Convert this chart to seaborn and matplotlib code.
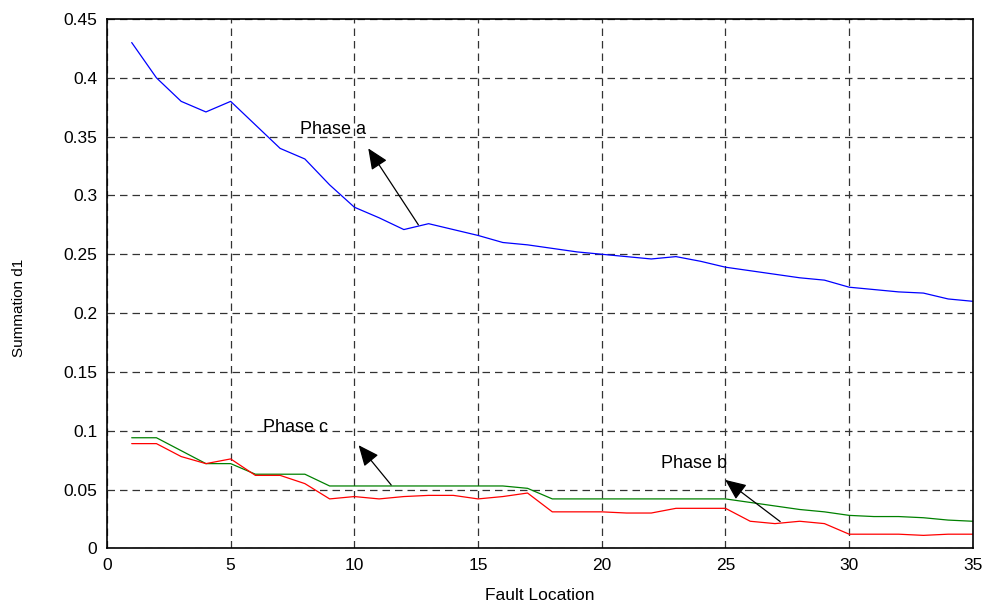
import numpy as np
import pandas as pd
import matplotlib
matplotlib.use("Agg")
import matplotlib.pyplot as plt
import seaborn as sns

# ============================
# Data
# ============================
fault_location = list(range(1, 36))

phase_a = [0.430, 0.400, 0.380, 0.371, 0.380, 0.360, 0.340, 0.331, 0.309, 0.290,
           0.281, 0.271, 0.276, 0.271, 0.266, 0.260, 0.258, 0.255, 0.252, 0.250,
           0.248, 0.246, 0.248, 0.244, 0.239, 0.236, 0.233, 0.230, 0.228, 0.222,
           0.220, 0.218, 0.217, 0.212, 0.210]

phase_b = [0.089, 0.089, 0.078, 0.072, 0.076, 0.062, 0.062, 0.055, 0.042, 0.044,
           0.042, 0.044, 0.045, 0.045, 0.042, 0.044, 0.047, 0.031, 0.031, 0.031,
           0.030, 0.030, 0.034, 0.034, 0.034, 0.023, 0.021, 0.023, 0.021, 0.012,
           0.012, 0.012, 0.011, 0.012, 0.012]

phase_c = [0.094, 0.094, 0.083, 0.072, 0.072, 0.063, 0.063, 0.063, 0.053, 0.053,
           0.053, 0.053, 0.053, 0.053, 0.053, 0.053, 0.051, 0.042, 0.042, 0.042,
           0.042, 0.042, 0.042, 0.042, 0.042, 0.039, 0.036, 0.033, 0.031, 0.028,
           0.027, 0.027, 0.026, 0.024, 0.023]

x_ticks = [0, 5, 10, 15, 20, 25, 30, 35]
y_ticks = [0, 0.05, 0.1, 0.15, 0.2, 0.25, 0.3, 0.35, 0.4, 0.45]
y_tick_labels = ["0", "0.05", "0.1", "0.15", "0.2", "0.25", "0.3", "0.35", "0.4", "0.45"]

# ============================
# Style
# ============================
sns.set_style("white")
plt.rcParams['font.family'] = ['Liberation Sans', 'DejaVu Sans']
plt.rcParams['text.color'] = 'black'
plt.rcParams['axes.labelcolor'] = 'black'

fig = plt.figure(figsize=(9.84, 6.04), dpi=100)
ax = fig.add_axes([0.1087, 0.0922, 0.8800, 0.8763])

sns.lineplot(x=fault_location, y=phase_a, color="#0000FF", linewidth=0.9, ax=ax)
sns.lineplot(x=fault_location, y=phase_c, color="#008000", linewidth=0.9, ax=ax)
sns.lineplot(x=fault_location, y=phase_b, color="#FF0000", linewidth=0.9, ax=ax)

ax.set_xlim(0, 35)
ax.set_ylim(0, 0.45)
ax.set_xticks(x_ticks)
ax.set_yticks(y_ticks)
ax.set_yticklabels(y_tick_labels)
ax.tick_params(direction="in", length=5, width=0.8, labelsize=12.5,
               colors="black", labelcolor="black", pad=7)

ax.grid(True, color="#333333", linestyle=(0, (6, 4)), linewidth=0.9)
for side in ax.spines.values():
    side.set_color("black")
    side.set_linewidth(1.2)

ax.set_xlabel("Fault Location", fontsize=12.5, labelpad=11)
ax.set_ylabel("Summation d1", fontsize=11)
ax.yaxis.set_label_coords(-0.093, 0.455)

# ============================
# Annotations
# ============================
arrow = dict(arrowstyle="-|>,head_length=0.8,head_width=0.35", color="black",
             lw=0.9, mutation_scale=16)
ax.annotate("", xy=(10.5, 0.342), xytext=(12.65, 0.273), arrowprops=arrow)
ax.text(7.8, 0.356, "Phase a", fontsize=13, va="center")

ax.annotate("", xy=(10.1, 0.0895), xytext=(11.56, 0.052), arrowprops=arrow)
ax.text(6.3, 0.103, "Phase c", fontsize=13, va="center")

ax.annotate("", xy=(24.9, 0.0596), xytext=(27.3, 0.0213), arrowprops=arrow)
ax.text(22.4, 0.0718, "Phase b", fontsize=13, va="center")

plt.savefig("out.png", dpi=100)
plt.close()
